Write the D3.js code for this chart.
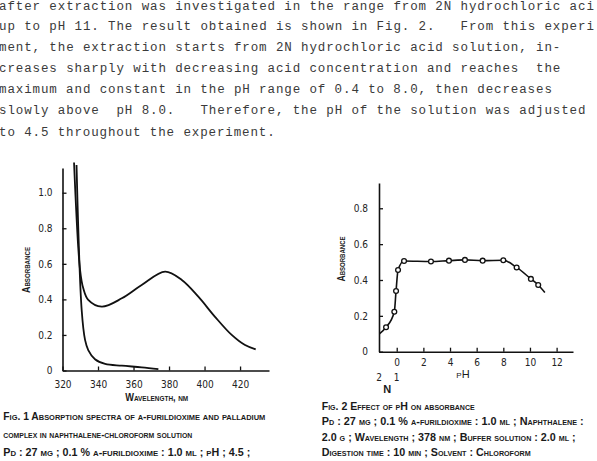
<!DOCTYPE html>
<html><head><meta charset="utf-8">
<script src="https://cdn.jsdelivr.net/npm/d3@7"></script>
<style>
html,body{margin:0;padding:0;background:#fff;}
svg{display:block;}
.para{font-family:"Liberation Mono","DejaVu Sans Mono",monospace;font-size:12.5px;fill:#3a3a3a;white-space:pre;}
.tick text{font-family:"Liberation Sans Narrow","DejaVu Sans Condensed","Liberation Sans",sans-serif;font-size:10px;fill:#222;}
.sc{font-family:"Liberation Sans",sans-serif;font-variant:small-caps;fill:#1a1a1a;}
</style></head>
<body>
<script>
// ---------- text ----------
const paragraphLines = [
  "after extraction was investigated in the range from 2N hydrochloric aci",
  "up to pH 11. The result obtained is shown in Fig. 2.   From this experi",
  "ment, the extraction starts from 2N hydrochloric acid solution, in-",
  "creases sharply with decreasing acid concentration and reaches  the",
  "maximum and constant in the pH range of 0.4 to 8.0, then decreases",
  "slowly above  pH 8.0.   Therefore, the pH of the solution was adjusted",
  "to 4.5 throughout the experiment."
];

// ---------- Fig. 1 data ----------
const fig1XTicks = [320, 340, 360, 380, 400, 420];
const fig1YTicks = [0, 0.2, 0.4, 0.6, 0.8, 1.0];
const complexNm  = [326.5, 329.9, 331.7, 334.5, 342.1, 353.4, 364.6, 377.8, 387.2, 396.5, 405.9, 415.3, 422.8, 428.8];
const complexAbs = [1.17, 0.565, 0.462, 0.397, 0.359, 0.406, 0.481, 0.556, 0.509, 0.415, 0.302, 0.200, 0.143, 0.119];
const reagentNm  = [327.9, 330.8, 332.7, 334.5, 338.3, 344.0, 353.4, 364.6, 374.0];
const reagentAbs = [1.156, 0.34, 0.172, 0.115, 0.063, 0.037, 0.027, 0.018, 0.008];

// ---------- Fig. 2 data ----------
const fig2XTicks = [0, 2, 4, 6, 8, 10, 12];
const fig2YTicks = [0, 0.2, 0.4, 0.6, 0.8];
const pointPH  = [-0.8, -0.18, -0.05, 0.1, 0.55, 2.57, 3.92, 5.12, 6.45, 8.0, 9.0, 10.07, 10.62];
const pointAbs = [0.136, 0.223, 0.339, 0.456, 0.506, 0.503, 0.508, 0.512, 0.508, 0.51, 0.47, 0.406, 0.372];
const lineStart = [-1.3, 0.10];
const lineEnd   = [11.12, 0.33];

const fig1Caption = [
  "Fig. 1  Absorption spectra of α-furildioxime and palladium",
  "complex in naphthalene-chloroform solution",
  "Pd : 27 µg ; 0.1 % α-furildioxime : 1.0 ml ; pH ; 4.5 ;"
];
const fig2Caption = [
  "Fig. 2  Effect of pH on absorbance",
  "Pd : 27 µg ; 0.1 % α-furildioxime : 1.0 ml ; Naphthalene :",
  "2.0 g ; Wavelength ; 378 nm ; Buffer solution : 2.0 ml ;",
  "Digestion time : 10 min ; Solvent : Chloroform"
];

const W = 597, H = 461;
const svg = d3.select("body").append("svg").attr("width", W).attr("height", H);

// paragraph
const lineY = [9.5, 30, 51, 72, 93, 114, 135.5];
const cw = 8.4;
svg.append("g").selectAll("text").data(paragraphLines).join("text")
  .attr("class", "para")
  .attr("x", -1)
  .attr("y", (d, i) => lineY[i])
  .attr("textLength", d => d.length * cw - 1.5)
  .attr("lengthAdjust", "spacing")
  .text(d => d);

// ---------- Fig 1 ----------
const x1 = d3.scaleLinear().domain([320, 436.3]).range([62.5, 269]);
const y1 = d3.scaleLinear().domain([0, 1.139]).range([370.5, 168]);

svg.append("g").attr("transform", `translate(0,${y1(0)})`)
  .call(d3.axisBottom(x1).tickValues(fig1XTicks).tickFormat(d3.format("d"))
    .tickSizeInner(-4).tickSizeOuter(0).tickPadding(10));
svg.append("g").attr("transform", `translate(${x1(320)},0)`)
  .call(d3.axisLeft(y1).tickValues(fig1YTicks).tickFormat(d => d === 0 ? "0" : d3.format(".1f")(d))
    .tickSizeInner(-4).tickSizeOuter(0).tickPadding(10));

const line1 = d3.line().x(d => x1(d[0])).y(d => y1(d[1])).curve(d3.curveCatmullRom.alpha(0.5));
svg.append("path").datum(complexNm.map((v, i) => [v, complexAbs[i]]))
  .attr("d", line1).attr("fill", "none").attr("stroke", "#111").attr("stroke-width", 1.8);
svg.append("path").datum(reagentNm.map((v, i) => [v, reagentAbs[i]]))
  .attr("d", line1).attr("fill", "none").attr("stroke", "#111").attr("stroke-width", 1.8);

svg.append("text").attr("class", "sc").attr("font-size", 11.5).attr("font-weight", "bold")
  .attr("text-anchor", "middle").attr("transform", "translate(30,270) rotate(-90)")
  .attr("textLength", 46).attr("lengthAdjust", "spacingAndGlyphs").text("Absorbance");
svg.append("text").attr("class", "sc").attr("font-size", 11.5).attr("font-weight", "bold")
  .attr("text-anchor", "middle").attr("x", 156.7).attr("y", 401)
  .attr("textLength", 63).attr("lengthAdjust", "spacingAndGlyphs").text("Wavelength, nm");

const cap1W = [262, 189, 247];
const cap1Y = [420, 438, 456];
svg.append("g").selectAll("text").data(fig1Caption).join("text")
  .attr("class", "sc").attr("font-size", 11).attr("font-weight", 600)
  .attr("x", 3.3).attr("y", (d, i) => cap1Y[i])
  .attr("textLength", (d, i) => cap1W[i]).attr("lengthAdjust", "spacingAndGlyphs")
  .text(d => d);

// ---------- Fig 2 ----------
const x2 = d3.scaleLinear().domain([-1.33, 13.23]).range([379, 573]);
const y2 = d3.scaleLinear().domain([0, 0.941]).range([351.7, 183]);

svg.append("g").attr("transform", `translate(0,${y2(0)})`)
  .call(d3.axisBottom(x2).tickValues(fig2XTicks).tickFormat(d3.format("d"))
    .tickSizeInner(-4).tickSizeOuter(0).tickPadding(7));
svg.append("g").attr("transform", `translate(${x2(-1.33)},0)`)
  .call(d3.axisLeft(y2).tickValues(fig2YTicks).tickFormat(d => d === 0 ? "0" : d3.format(".1f")(d))
    .tickSizeInner(-4).tickSizeOuter(0).tickPadding(11));

const pts2 = pointPH.map((v, i) => [v, pointAbs[i]]);
const line2 = d3.line().x(d => x2(d[0])).y(d => y2(d[1])).curve(d3.curveMonotoneX);
svg.append("path").datum([lineStart, ...pts2, lineEnd])
  .attr("d", line2).attr("fill", "none").attr("stroke", "#111").attr("stroke-width", 1.6);
svg.append("g").selectAll("circle").data(pts2).join("circle")
  .attr("cx", d => x2(d[0])).attr("cy", d => y2(d[1])).attr("r", 2.4)
  .attr("fill", "#fff").attr("stroke", "#111").attr("stroke-width", 1.3);

svg.append("text").attr("class", "sc").attr("font-size", 11.5).attr("font-weight", "bold")
  .attr("text-anchor", "middle").attr("transform", "translate(345,259) rotate(-90)")
  .attr("textLength", 45).attr("lengthAdjust", "spacingAndGlyphs").text("Absorbance");
svg.append("text").attr("class", "sc").attr("font-size", 11)
  .attr("text-anchor", "middle").attr("x", 463).attr("y", 378).text("pH");

const fonts = "Liberation Sans Narrow, DejaVu Sans Condensed, Liberation Sans, sans-serif";
svg.append("text").attr("font-family", fonts).attr("font-size", 10).attr("fill", "#222")
  .attr("text-anchor", "middle").attr("x", x2(-1.33)).attr("y", 381).text("2");
svg.append("text").attr("font-family", fonts).attr("font-size", 10).attr("fill", "#222")
  .attr("text-anchor", "middle").attr("x", x2(0)).attr("y", 381).text("1");
svg.append("text").attr("class", "sc").attr("font-size", 11).attr("font-weight", "bold")
  .attr("text-anchor", "middle").attr("x", 387.3).attr("y", 393).text("N");

const cap2W = [153, 262, 254, 209];
const cap2Y = [409.5, 425, 440.5, 456];
svg.append("g").selectAll("text").data(fig2Caption).join("text")
  .attr("class", "sc").attr("font-size", 10.5).attr("font-weight", 600)
  .attr("x", 321.7).attr("y", (d, i) => cap2Y[i])
  .attr("textLength", (d, i) => cap2W[i]).attr("lengthAdjust", "spacingAndGlyphs")
  .text(d => d);

svg.selectAll(".domain").attr("stroke", "#111").attr("stroke-width", 1.6);
svg.selectAll(".tick line").attr("stroke", "#111").attr("stroke-width", 1.3);
</script>
</body></html>
